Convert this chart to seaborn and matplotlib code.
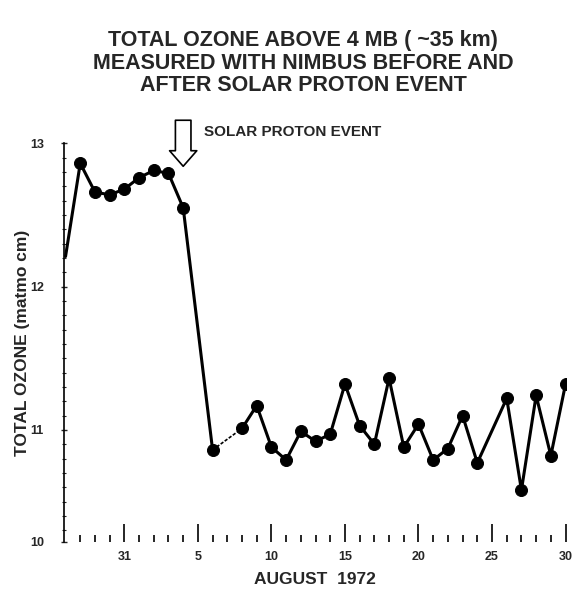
import pandas as pd
import numpy as np
import matplotlib.pyplot as plt
import seaborn as sns

# days counted from July 31 (0), so Aug n = n, July 27 = -4
days = [-4, -3, -2, -1, 0, 1, 2, 3, 4, 6, 8, 9, 10, 11, 12, 13, 14, 15, 16,
        17, 18, 19, 20, 21, 22, 23, 24, 26, 27, 28, 29, 30]
ozone = [12.21, 12.86, 12.66, 12.64, 12.68, 12.76, 12.81, 12.79, 12.55,
         10.86, 11.01, 11.17, 10.88, 10.79, 10.99, 10.92, 10.97, 11.32, 11.03,
         10.90, 11.36, 10.88, 11.04, 10.79, 10.87, 11.10, 10.77, 11.22, 10.58,
         11.24, 10.82, 11.32]
x_ticks = [0, 5, 10, 15, 20, 25, 30]
x_labels = ['31', '5', '10', '15', '20', '25', '30']
y_ticks = [10.22, 11, 12, 13]
y_labels = ['10', '11', '12', '13']
event_day = 4
title = 'TOTAL OZONE ABOVE 4 MB ( ~35 km)\nMEASURED WITH NIMBUS BEFORE AND\nAFTER SOLAR PROTON EVENT'

df = pd.DataFrame({'day': days, 'ozone': ozone})
before = df[df['day'] <= 6]
gap = df[(df['day'] >= 6) & (df['day'] <= 8)]
after = df[df['day'] >= 8]

sns.set_style('white')
plt.rcParams['font.family'] = ['Liberation Sans', 'DejaVu Sans']
plt.rcParams['font.weight'] = 'bold'

fig = plt.figure(figsize=(5.72, 5.92), dpi=100)
ax = fig.add_axes([0.112, 0.085, 0.878, 0.673])

sns.lineplot(data=before, x='day', y='ozone', color='black', lw=2.2, ax=ax)
sns.lineplot(data=gap, x='day', y='ozone', color='black', lw=1.2, ls=(0, (2, 1)), ax=ax)
sns.lineplot(data=after, x='day', y='ozone', color='black', lw=2.2, ax=ax)
sns.scatterplot(data=df.iloc[1:], x='day', y='ozone', color='black', s=75,
                edgecolor='black', zorder=5, ax=ax)

ax.set_xlim(-4.1, 30.05)
ax.set_ylim(10.22, 13.0)
ax.set_xticks(x_ticks)
ax.set_xticklabels(x_labels, fontsize=9, fontweight='bold')
ax.set_xticks(np.arange(-3, 31, 1), minor=True)
ax.set_yticks(y_ticks)
ax.set_yticklabels(y_labels, fontsize=9, fontweight='bold')
ax.set_yticks(np.arange(10.3, 13.0, 0.1), minor=True)
ax.tick_params(axis='x', which='major', direction='in', length=13, width=1.4, pad=7)
ax.tick_params(axis='x', which='minor', direction='in', length=5, width=1.4)
ax.tick_params(axis='y', which='major', direction='inout', length=5, width=1, pad=12)
ax.tick_params(axis='y', which='minor', direction='inout', length=3, width=0.8)
ax.tick_params(bottom=True, left=True, which='both')

for s in ['top', 'right', 'bottom']:
    ax.spines[s].set_visible(False)
ax.spines['left'].set_color('black')
ax.spines['left'].set_linewidth(1.2)

ax.set_xlabel('AUGUST  1972', fontsize=12.5, fontweight='bold', labelpad=6)
ax.set_ylabel('TOTAL OZONE (matmo cm)', fontsize=12.5, fontweight='bold', labelpad=0)

ax.annotate('', xy=(event_day, 12.82), xytext=(event_day, 13.18),
            xycoords='data', annotation_clip=False,
            arrowprops=dict(arrowstyle='simple,head_width=1.4,head_length=0.8,tail_width=0.8',
                            fc='white', ec='black', lw=1.2, mutation_scale=14))
ax.text(event_day + 1.4, 13.08, 'SOLAR PROTON EVENT', fontsize=11, fontweight='bold',
        va='center', ha='left')

fig.text(0.53, 0.95, title, ha='center', va='top', fontsize=15.5,
         fontweight='bold', linespacing=1.12)

fig.savefig('out.png', dpi=100)
